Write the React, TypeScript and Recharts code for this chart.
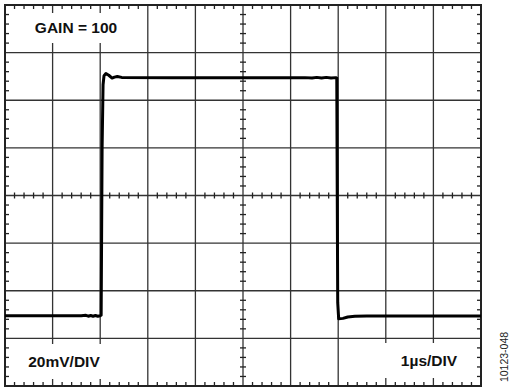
import { ComposedChart, Line, XAxis, YAxis, CartesianGrid, ReferenceArea, ReferenceDot } from "recharts";

// scope trace: time in µs, amplitude in mV
const timeUs = [
  0, 1.0, 1.6, 1.7, 1.75, 1.8, 1.85, 1.9, 1.95, 2.0, 2.02, 2.04, 2.06, 2.08, 2.12, 2.18, 2.25, 2.3,
  2.36, 2.45, 3.5, 5.0, 6.3, 6.45, 6.55, 6.65, 6.75, 6.85, 6.95, 6.97, 6.98, 6.99, 7.01, 7.1, 7.2,
  7.35, 7.6, 10,
];
const traceMv = [
  -50.5, -50.5, -50.5, -50.3, -50.7, -50.4, -50.7, -50.4, -50.7, -50.5, -50.3, 20, 46.5, 50.3, 51.2,
  50.5, 49.3, 49.7, 50.0, 49.6, 49.5, 49.5, 49.5, 49.3, 49.6, 49.3, 49.6, 49.3, 49.5, 49.3, 0, -45,
  -51.8, -51.6, -51.0, -50.7, -50.6, -50.6,
];

const xMajor = [0, 1, 2, 3, 4, 5, 6, 7, 8, 9, 10];
const yMajor = [-80, -60, -40, -20, 0, 20, 40, 60, 80];

const data = timeUs.map((t, i) => ({ t, v: traceMv[i] }));

// 4 minor ticks per division
const xMinor: number[] = [];
for (let i = 0; i < 50; i++) if (i % 5 !== 0) xMinor.push(+(i * 0.2).toFixed(1));
const yMinor: number[] = [];
for (let i = -20; i < 20; i++) if (i % 5 !== 0) yMinor.push(i * 4);

const INK = "#222";

const tickShape = (dx1: number, dy1: number, dx2: number, dy2: number) => (p: any) => (
  <line x1={p.cx + dx1} y1={p.cy + dy1} x2={p.cx + dx2} y2={p.cy + dy2} stroke={INK} strokeWidth={1.3} />
);

const labelStyle: React.CSSProperties = {
  position: "absolute",
  background: "#fff",
  fontFamily: "'Liberation Sans', Arial, sans-serif",
  fontWeight: "bold",
  fontSize: 15.5,
  color: "#111",
  display: "flex",
  alignItems: "center",
  justifyContent: "center",
};

export default function App() {
  return (
    <div style={{ position: "absolute", left: 0, top: 0, width: 509, height: 387, background: "#fff" }}>
      <ComposedChart width={509} height={387} data={data} margin={{ top: 5, right: 28, bottom: 1, left: 5 }}>
        <XAxis dataKey="t" type="number" domain={[0, 10]} ticks={xMajor} hide />
        <YAxis type="number" domain={[-80, 80]} ticks={yMajor} hide />
        <CartesianGrid stroke="#333" strokeWidth={1.3} />
        <ReferenceArea x1={0} x2={10} y1={-80} y2={80} fill="none" stroke={INK} strokeWidth={2} ifOverflow="visible" />

        {xMinor.map((t) => (
          <ReferenceDot key={"top" + t} x={t} y={80} ifOverflow="visible" shape={tickShape(0, 0, 0, 4)} />
        ))}
        {xMinor.map((t) => (
          <ReferenceDot key={"bot" + t} x={t} y={-80} ifOverflow="visible" shape={tickShape(0, -4, 0, 0)} />
        ))}
        {xMinor.map((t) => (
          <ReferenceDot key={"mid" + t} x={t} y={0} ifOverflow="visible" shape={tickShape(0, -3, 0, 3)} />
        ))}
        {yMinor.map((v) => (
          <ReferenceDot key={"l" + v} x={0} y={v} ifOverflow="visible" shape={tickShape(0, 0, 4, 0)} />
        ))}
        {yMinor.map((v) => (
          <ReferenceDot key={"r" + v} x={10} y={v} ifOverflow="visible" shape={tickShape(-4, 0, 0, 0)} />
        ))}
        {yMinor.map((v) => (
          <ReferenceDot key={"c" + v} x={5} y={v} ifOverflow="visible" shape={tickShape(-3, 0, 3, 0)} />
        ))}

        <Line
          type="linear"
          dataKey="v"
          stroke="#000"
          strokeWidth={3}
          dot={false}
          activeDot={false}
          isAnimationActive={false}
          strokeLinejoin="round"
        />
      </ComposedChart>

      <div style={{ ...labelStyle, left: 12, top: 13, width: 128, height: 30 }}>GAIN = 100</div>
      <div style={{ ...labelStyle, left: 13, top: 344, width: 102, height: 35 }}>20mV/DIV</div>
      <div style={{ ...labelStyle, left: 382, top: 343, width: 94, height: 35 }}>1µs/DIV</div>
      <div
        style={{
          position: "absolute",
          left: 504,
          top: 357,
          transform: "translate(-50%, -50%) rotate(-90deg)",
          fontFamily: "'Liberation Sans', Arial, sans-serif",
          fontSize: 10.5,
          color: "#222",
          whiteSpace: "nowrap",
        }}
      >
        10123-048
      </div>
    </div>
  );
}
